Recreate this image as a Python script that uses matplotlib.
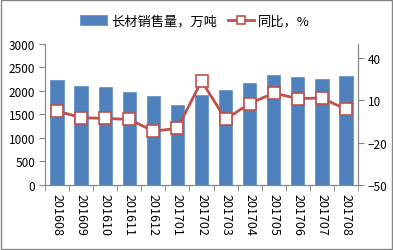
import matplotlib.pyplot as plt
import numpy as np
from matplotlib.patches import Rectangle

plt.rcParams['font.family'] = ['Noto Sans CJK SC', 'DejaVu Sans']

# 数据
months = ['201608', '201609', '201610', '201611', '201612', '201701', '201702',
          '201703', '201704', '201705', '201706', '201707', '201708']
sales = [2225, 2105, 2075, 1970, 1890, 1700, 1915, 2020, 2160, 2345, 2295, 2255, 2310]
yoy = [2.5, -2.3, -2.8, -3.5, -11.8, -9.9, 23.7, -3.3, 7.7, 15.2, 11.2, 11.7, 3.6]

x = np.arange(len(months))
gray = '#868686'

fig = plt.figure(figsize=(3.93, 2.51), dpi=100)
fig.patches.append(Rectangle((0.002, 0.003), 0.995, 0.993, transform=fig.transFigure,
                             fill=False, edgecolor=gray, linewidth=1.0))
ax = fig.add_axes([0.1145, 0.259, 0.7965, 0.562])
ax2 = ax.twinx()

bars = ax.bar(x, sales, width=0.55, color='#4F81BD', edgecolor='#6A95CB', linewidth=0.6,
              label='长材销售量，万吨')
line, = ax2.plot(x, yoy, color='#C0504D', linewidth=2, marker='s', markersize=8,
                 markerfacecolor='white', markeredgecolor='#C0504D', markeredgewidth=1.2,
                 label='同比，%')

ax.set_xlim(-0.5, len(months) - 0.5)
ax.set_ylim(0, 3000)
ax.set_yticks(np.arange(0, 3001, 500))
ax2.set_ylim(-50, 50)
ax2.set_yticks([-50, -20, 10, 40])

ax.set_xticks(x)
ax.set_xticklabels(months, rotation=270, fontsize=9)
ax.set_xticks(np.arange(-0.5, len(months), 1), minor=True)
ax.tick_params(axis='x', which='major', length=0, pad=6)
ax.tick_params(axis='x', which='minor', length=4, color=gray, direction='out')
ax.tick_params(axis='y', labelsize=8.5, length=4, color=gray, pad=3)
ax2.tick_params(axis='y', labelsize=8.5, length=4, color=gray, pad=3)

for a in (ax, ax2):
    a.spines['top'].set_visible(False)
    for s in ('left', 'right', 'bottom'):
        a.spines[s].set_color(gray)
        a.spines[s].set_linewidth(0.8)

fig.legend(handles=[bars, line], loc='center', bbox_to_anchor=(0.497, 0.912), ncol=2,
           frameon=False, fontsize=9.5, handlelength=2.0, handletextpad=0.3,
           columnspacing=0.85, markerscale=0.75)

fig.savefig('out.png', dpi=100)
